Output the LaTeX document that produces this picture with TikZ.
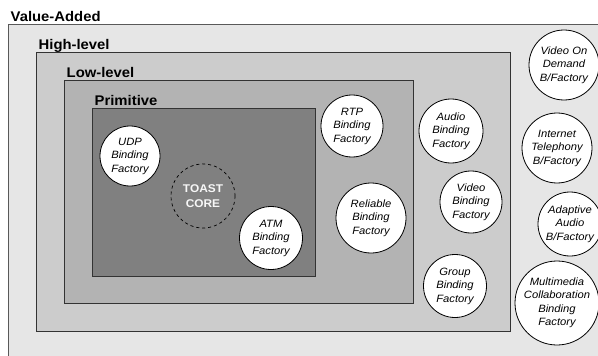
\documentclass[tikz,border=0pt]{standalone}
\usepackage{fontspec}
\setmainfont{Liberation Sans}
\newfontfamily\lblfont{Liberation Sans}[FakeStretch=1.06]
\definecolor{cva}{HTML}{E6E6E6}
\definecolor{chl}{HTML}{CCCCCC}
\definecolor{cll}{HTML}{B3B3B3}
\definecolor{cpr}{HTML}{808080}
\definecolor{cline}{HTML}{333333}
\begin{document}
\begin{tikzpicture}[x=1pt,y=-1pt,
  layer/.style={draw=cline,line width=0.9pt},
  lbl/.style={anchor=base west,inner sep=0pt,font=\lblfont\bfseries\fontsize{14}{16}\selectfont},
  fac/.style={circle,draw=black,fill=white,line width=0.8pt,inner sep=0pt,align=center,
    font=\lblfont\itshape\fontsize{10.6}{13.5}\selectfont},
  core/.style={circle,draw=black,dashed,line width=0.7pt,inner sep=0pt,align=center,
    text=white!97!black,font=\lblfont\bfseries\fontsize{11.2}{14.5}\selectfont}]
\useasboundingbox (0,0) rectangle (598,356);
\fill[white] (0,0) rectangle (598,356);
\clip (0,0) rectangle (598,356);
% layers
\draw[layer,fill=cva,draw=black!65] (8.5,24.5) rectangle (610,370);
\draw[layer,fill=chl] (36.5,52.5) rectangle (510.5,331.5);
\draw[layer,fill=cll] (64.5,80.5) rectangle (413.5,303.5);
\draw[layer,fill=cpr] (92.5,108.5) rectangle (315.5,276.5);
\node[lbl] (lva) at (10.5,21) {Value-Added};
\node[lbl] (lhl) at (38.5,49.5) {High-level};
\node[lbl] (lll) at (66.5,77.5) {Low-level};
\node[lbl] (lpr) at (94.5,105.5) {Primitive};
% primitive
\node[fac,minimum size=60pt] (udp) at (130,156) {UDP\\Binding\\Factory};
\node[core,minimum size=64pt] (toast) at (203,196) {TOAST\\CORE};
\node[fac,minimum size=63pt] (atm) at (271,238) {ATM\\Binding\\Factory};
% low-level
\node[fac,minimum size=62pt] (rtp) at (352,126) {RTP\\Binding\\Factory};
\node[fac,minimum size=70pt] (rel) at (371,218) {Reliable\\Binding\\Factory};
% high-level
\node[fac,minimum size=64pt] (aud) at (451,131) {Audio\\Binding\\Factory};
\node[fac,minimum size=62pt] (vid) at (471,202) {Video\\Binding\\Factory};
\node[fac,minimum size=63pt] (grp) at (455,286) {Group\\Binding\\Factory};
% value-added
\node[fac,minimum size=70pt] (vod) at (564,65) {Video On\\Demand\\B/Factory};
\node[fac,minimum size=70pt] (tel) at (557,148) {Internet\\Telephony\\B/Factory};
\node[fac,minimum size=64pt] (ada) at (570,224) {Adaptive\\Audio\\B/Factory};
\node[fac,minimum size=84pt] (mmc) at (557,303) {Multimedia\\Collaboration\\Binding\\Factory};
\end{tikzpicture}
\end{document}
